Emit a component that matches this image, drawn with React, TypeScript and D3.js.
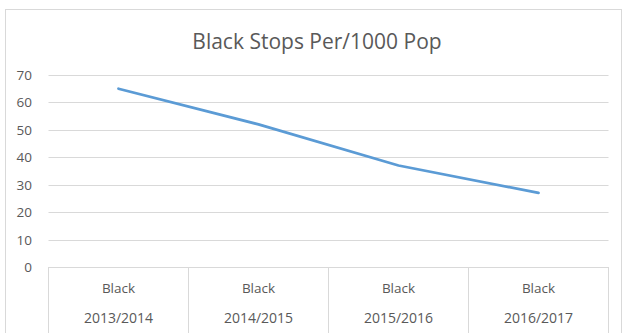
import React from "react";
import * as d3 from "d3";

const groups = ["Black", "Black", "Black", "Black"];
const years = ["2013/2014", "2014/2015", "2015/2016", "2016/2017"];
const values = [65, 52, 37, 27];
const yTicks = [0, 10, 20, 30, 40, 50, 60, 70];
const title = "Black Stops Per/1000 Pop";

const W = 624;
const H = 333;
const plot = { left: 48.5, right: 608.5, top: 75, bottom: 267 };
const font = "'Open Sans', 'Liberation Sans', sans-serif";
const textColor = "#595959";
const gridColor = "#d9d9d9";

export default function App() {
  const x = d3
    .scaleBand<number>()
    .domain(d3.range(years.length))
    .range([plot.left, plot.right])
    .padding(0);
  const y = d3.scaleLinear().domain([0, 70]).range([plot.bottom, plot.top]);
  const line = d3
    .line<number>()
    .x((_, i) => (x(i) as number) + x.bandwidth() / 2)
    .y((d) => y(d));

  const edges = d3.range(years.length + 1).map((i) =>
    i < years.length ? (x(i) as number) : plot.right
  );

  return (
    <svg
      width={W}
      height={H}
      style={{ position: "absolute", left: 0, top: 0, background: "#fff" }}
    >
      <rect x={5.5} y={9.5} width={616} height={340} fill="#fff" stroke={gridColor} strokeWidth={1} />
      <text
        x={317}
        y={49}
        textAnchor="middle"
        fontFamily={font}
        fontSize={21}
        fill={textColor}
      >
        {title}
      </text>
      {yTicks.map((t) => (
        <g key={t}>
          <line x1={plot.left} x2={plot.right} y1={Math.round(y(t)) + 0.5} y2={Math.round(y(t)) + 0.5} stroke={gridColor} strokeWidth={1} />
          <text
            x={32}
            y={y(t) + 5}
            textAnchor="end"
            fontFamily={font}
            fontSize={13.5}
            fill={textColor}
          >
            {t}
          </text>
        </g>
      ))}
      {edges.map((ex, i) => (
        <line key={i} x1={ex} x2={ex} y1={plot.bottom} y2={H} stroke={gridColor} strokeWidth={1} />
      ))}
      {years.map((yr, i) => {
        const cx = (x(i) as number) + x.bandwidth() / 2;
        return (
          <g key={yr}>
            <text x={cx} y={293} textAnchor="middle" fontFamily={font} fontSize={13.5} fill={textColor}>
              {groups[i]}
            </text>
            <text x={cx} y={323} textAnchor="middle" fontFamily={font} fontSize={14} fill={textColor}>
              {yr}
            </text>
          </g>
        );
      })}
      <path d={line(values) || ""} fill="none" stroke="#5b9bd5" strokeWidth={2.75} strokeLinecap="round" strokeLinejoin="round" />
    </svg>
  );
}
